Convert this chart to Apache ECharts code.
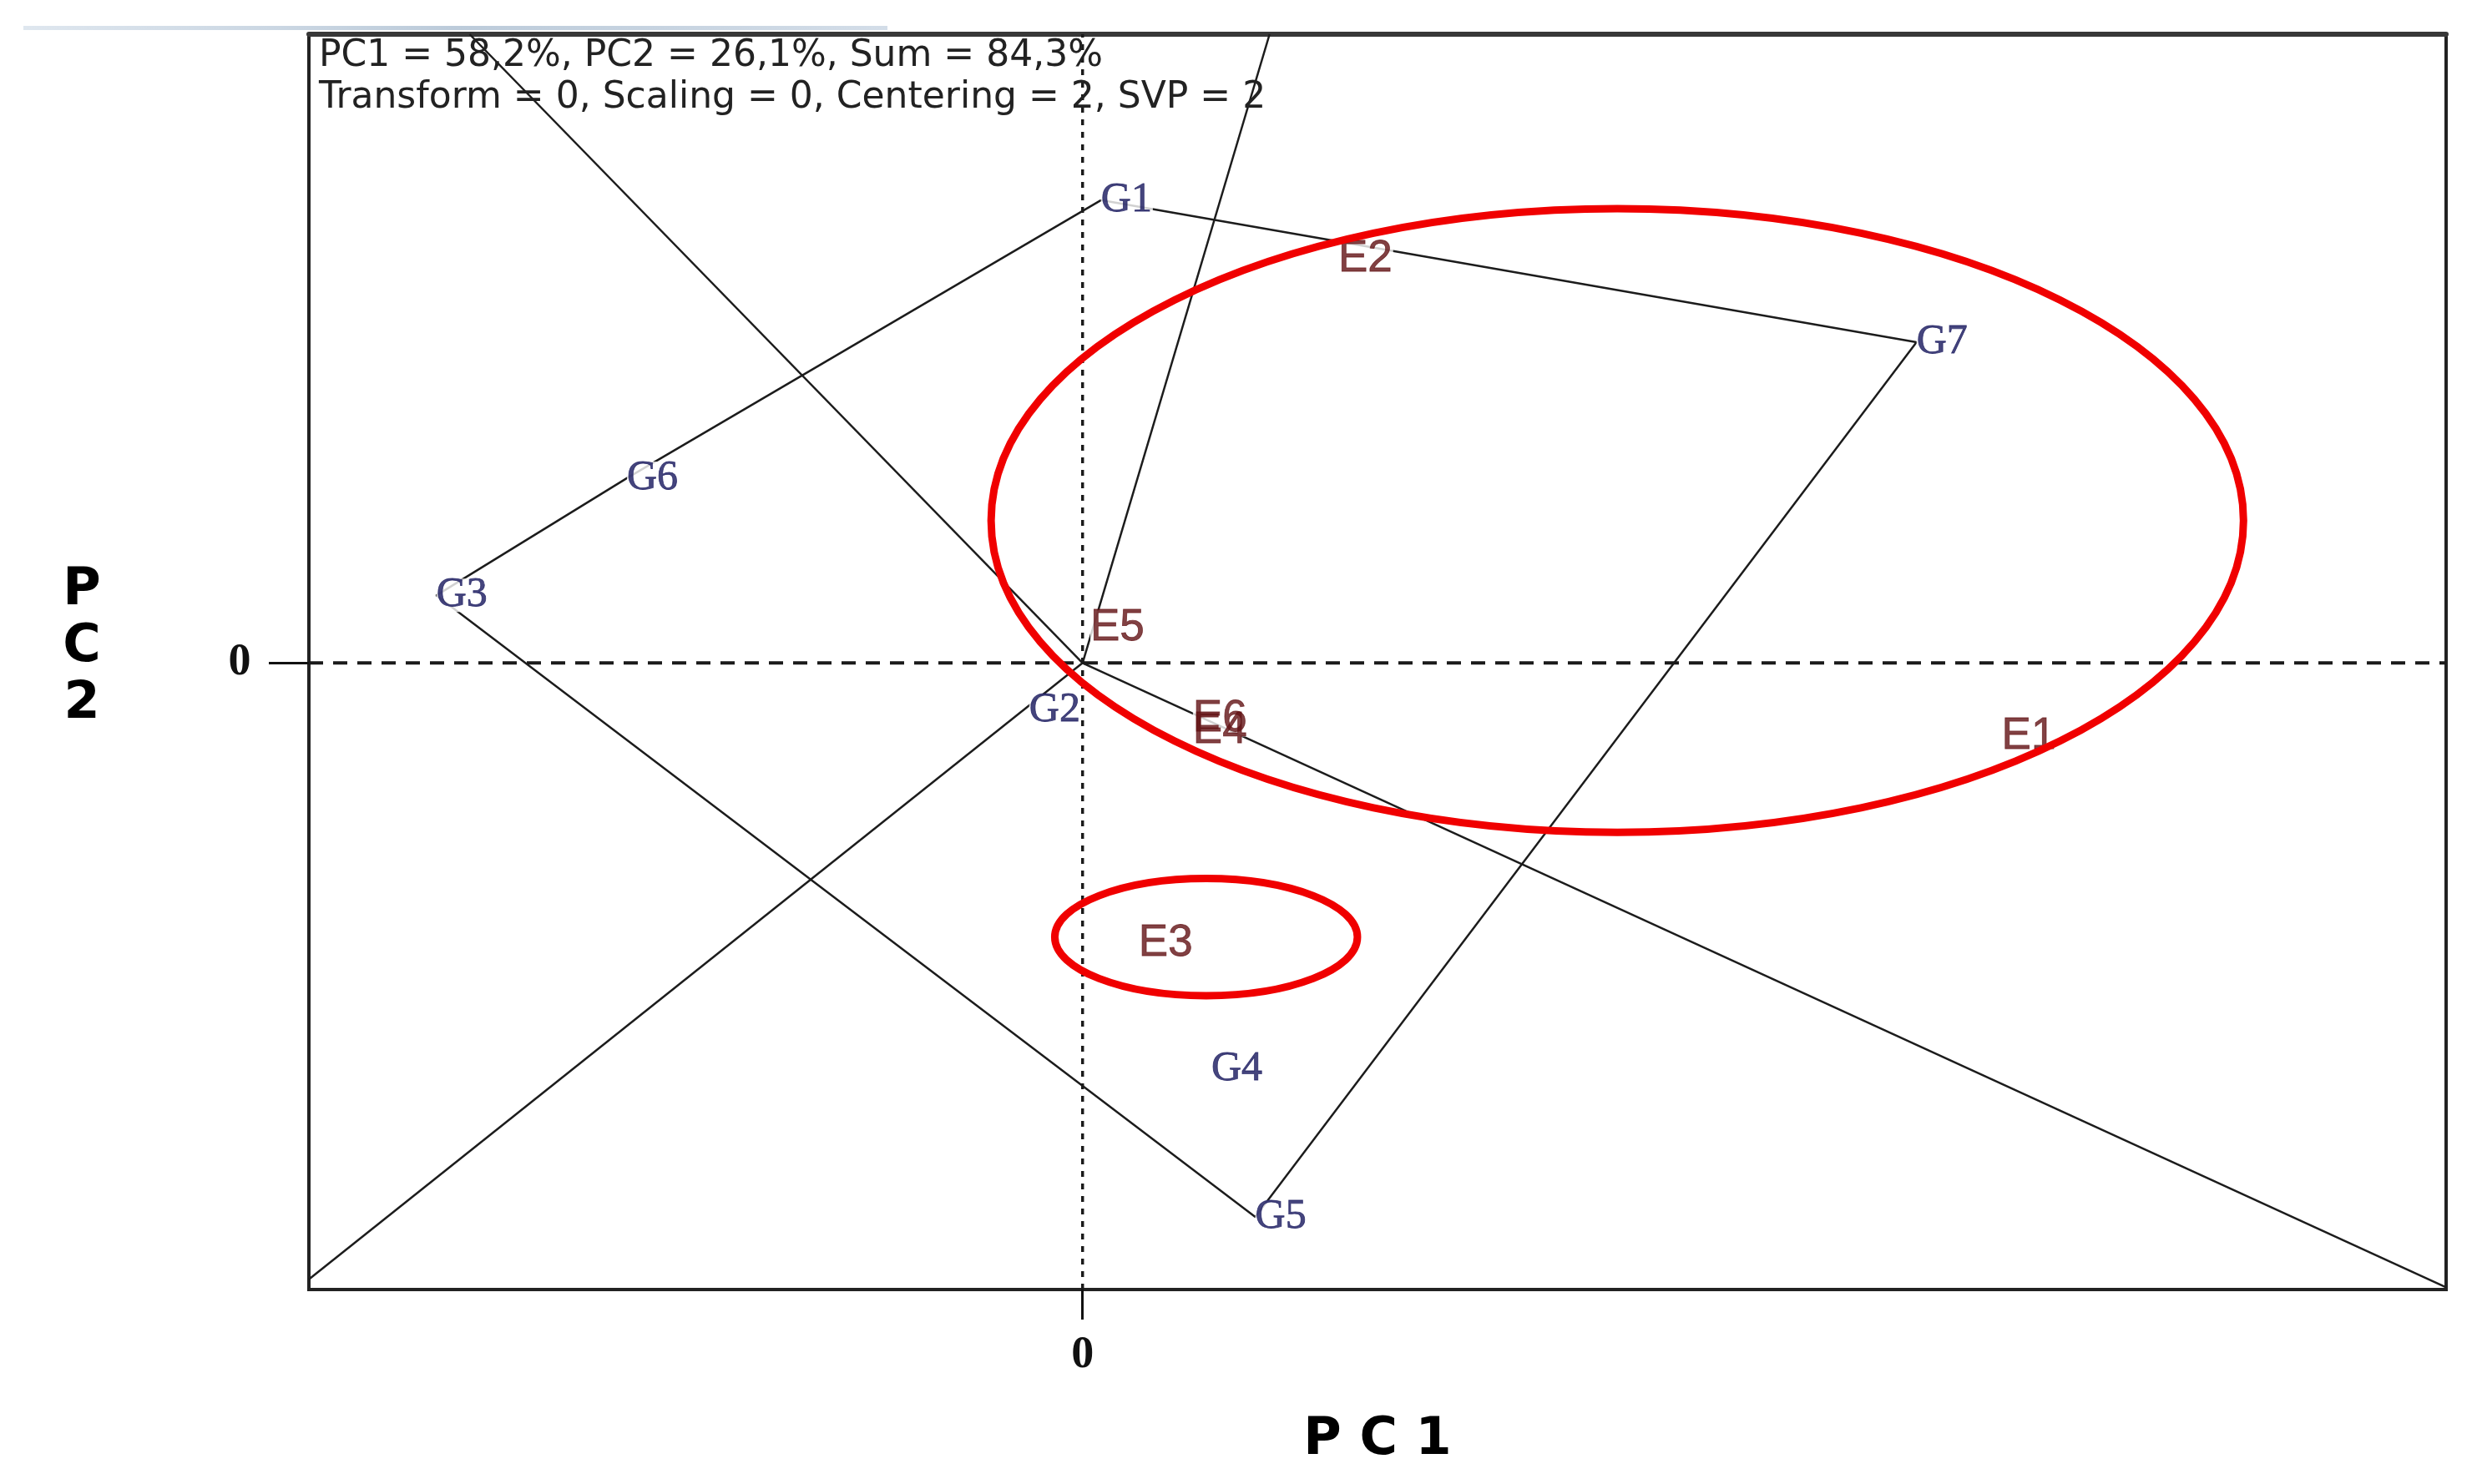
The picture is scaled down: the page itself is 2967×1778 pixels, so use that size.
<!DOCTYPE html>
<html>
<head>
<meta charset="utf-8">
<script src="https://cdn.jsdelivr.net/npm/echarts@6/dist/echarts.min.js"></script>
<style>
html,body{margin:0;padding:0;background:#fff;}
#chart{width:2967px;height:1778px;}
</style>
</head>
<body>
<div id="chart"></div>
<script>
// ---- data ----
const xRange = [-1.81, 3.19];
const yRange = [-1.465, 1.47];
const tickValues = [0];

const genotypes = ['G1', 'G2', 'G3', 'G4', 'G5', 'G6', 'G7'];
const genoX = [0.043, -0.125, -1.512, 0.301, 0.404, -1.066, 1.951];
const genoY = [1.082, -0.111, 0.158, -0.949, -1.295, 0.432, 0.750];

const environments = ['E1', 'E2', 'E3', 'E4', 'E5', 'E6'];
const envX = [2.150, 0.598, 0.131, 0.258, 0.018, 0.258];
const envY = [-0.172, 0.945, -0.656, -0.158, 0.082, -0.131];

const polygonOrder = ['G1', 'G7', 'G5', 'G3', 'G6', 'G1'];

const rayEndX = [0.4375, -1.434, 3.19, -1.81];
const rayEndY = [1.47, 1.47, -1.46, -1.441];

const ellipseCX = [1.251, 0.289];
const ellipseCY = [0.333, -0.641];
const ellipseRX = [1.465, 0.354];
const ellipseRY = [0.729, 0.137];

const headerLines = ['PC1 = 58,2%, PC2 = 26,1%, Sum = 84,3%', 'Transform = 0, Scaling = 0, Centering = 2, SVP = 2'];
const yTitleLetters = ['P', 'C', '2'];

// ---- build ----
const chart = echarts.init(document.getElementById('chart'), null, {renderer: 'canvas'});

const polygonData = polygonOrder.map(n => {
  const i = genotypes.indexOf(n);
  return [genoX[i], genoY[i]];
});

const lineColor = '#1c1c1c';
const raySeries = rayEndX.map((x, i) => ({
  type: 'line', z: 2, symbol: 'none', silent: true, animation: false,
  data: [[0, 0], [x, rayEndY[i]]],
  lineStyle: {color: lineColor, width: 2.5}
}));

const labelBase = {
  show: true, position: 'right', distance: 0,
  backgroundColor: '#ffffff', padding: [0, 1, 0, 0]
};
const gColor = '#16165c';
const eColor = '#621214';
const gLabel = Object.assign({}, labelBase, {
  formatter: p => p.name,
  fontFamily: 'Liberation Serif', fontSize: 50, lineHeight: 40, color: gColor,
  textBorderColor: gColor, textBorderWidth: 0.8
});
const eLabel = Object.assign({}, labelBase, {
  formatter: p => p.name,
  fontFamily: 'Liberation Sans', fontSize: 53, lineHeight: 42, color: eColor,
  textBorderColor: eColor, textBorderWidth: 0.8
});

const overlapEnv = 'E4';
const envItems = environments.map((n, i) => ({name: n, value: [envX[i], envY[i]]}));

const option = {
  animation: false,
  backgroundColor: '#ffffff',
  title: {
    text: headerLines.join('\n'),
    left: 382, top: 43, padding: 0,
    textStyle: {fontFamily: 'DejaVu Sans', fontSize: 44, fontWeight: 'normal', color: '#222222', lineHeight: 50}
  },
  graphic: [{
    type: 'rect', left: 28, top: 31, z: -1,
    shape: {width: 1035, height: 5},
    style: {fill: new echarts.graphic.LinearGradient(0, 0, 1, 0, [{offset: 0, color: '#dfe7ef'}, {offset: 0.5, color: '#bccbda'}, {offset: 1, color: '#d3dde8'}])}
  }],
  grid: {left: 370, right: 37, top: 41, bottom: 233, show: true, borderColor: '#222222', borderWidth: 4, backgroundColor: 'transparent'},
  xAxis: [{
    type: 'value', min: xRange[0], max: xRange[1],
    name: 'P C 1', nameLocation: 'middle', nameGap: 181,
    nameTextStyle: {fontFamily: 'DejaVu Sans', fontWeight: 'bold', fontSize: 62, color: '#000', verticalAlign: 'middle'},
    axisLine: {show: true, onZero: false, lineStyle: {color: '#222222', width: 4}},
    axisTick: {show: true, customValues: tickValues, length: 36, lineStyle: {color: '#111', width: 3}},
    axisLabel: {customValues: tickValues, margin: 79, verticalAlign: 'middle', fontFamily: 'Liberation Serif', fontWeight: 'bold', fontSize: 54, color: '#111'},
    splitLine: {show: false}
  }, {
    type: 'value', position: 'top', min: xRange[0], max: xRange[1],
    axisLine: {show: true, onZero: false, lineStyle: {color: '#383838', width: 6}},
    axisTick: {show: false}, axisLabel: {show: false}, splitLine: {show: false}
  }],
  yAxis: {
    type: 'value', min: yRange[0], max: yRange[1],
    name: yTitleLetters.map(l => '{a|' + l + '}').join('\n') + '\n{b| }',
    nameLocation: 'middle', nameRotate: 0, nameGap: 272,
    nameTextStyle: {
      align: 'center', verticalAlign: 'middle',
      rich: {
        a: {fontFamily: 'DejaVu Sans', fontWeight: 'bold', fontSize: 62, lineHeight: 68, color: '#000', align: 'center'},
        b: {fontSize: 10, lineHeight: 34}
      }
    },
    axisLine: {show: true, onZero: false, lineStyle: {color: '#222222', width: 4}},
    axisTick: {show: true, customValues: tickValues, length: 48, lineStyle: {color: '#111', width: 3}},
    axisLabel: {customValues: tickValues, margin: 83, align: 'center', fontFamily: 'Liberation Serif', fontWeight: 'bold', fontSize: 54, color: '#111'},
    splitLine: {show: false}
  },
  series: [
    {
      type: 'line', z: 1, symbol: 'none', silent: true,
      data: [[xRange[0], 0], [xRange[1], 0]],
      lineStyle: {color: '#1a1a1a', width: 4, type: [17, 12]}
    },
    {
      type: 'line', z: 1, symbol: 'none', silent: true,
      data: [[0, yRange[0]], [0, yRange[1]]],
      lineStyle: {color: '#1a1a1a', width: 3.5, type: [7, 8]}
    },
    {
      type: 'line', z: 2, symbol: 'none', silent: true,
      data: polygonData,
      lineStyle: {color: lineColor, width: 2.5}
    },
    ...raySeries,
    {
      type: 'scatter', z: 4, symbolSize: 0.1, itemStyle: {color: 'rgba(0,0,0,0)'},
      data: genotypes.map((n, i) => ({name: n, value: [genoX[i], genoY[i]]})),
      label: gLabel
    },
    {
      type: 'scatter', z: 4, symbolSize: 0.1, itemStyle: {color: 'rgba(0,0,0,0)'},
      data: envItems.filter(d => d.name !== overlapEnv),
      label: eLabel
    },
    {
      type: 'scatter', z: 5, symbolSize: 0.1, itemStyle: {color: 'rgba(0,0,0,0)'},
      data: envItems.filter(d => d.name === overlapEnv),
      label: Object.assign({}, eLabel, {backgroundColor: 'transparent'})
    },
    {
      type: 'custom', z: 6, clip: false, silent: true,
      data: ellipseCX.map((c, i) => [c, ellipseCY[i], ellipseRX[i], ellipseRY[i]]),
      renderItem: (params, api) => {
        const c = api.coord([api.value(0), api.value(1)]);
        const s = api.size([api.value(2), api.value(3)]);
        return {
          type: 'ellipse',
          shape: {cx: c[0], cy: c[1], rx: s[0], ry: s[1]},
          style: {fill: 'none', stroke: '#f00000', lineWidth: 9}
        };
      }
    }
  ]
};
chart.setOption(option);
</script>
</body>
</html>
